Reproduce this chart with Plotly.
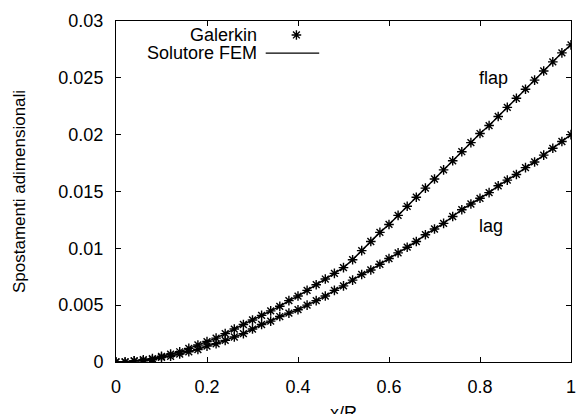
import plotly.graph_objects as go

# ---- data ----
x_vals = [round(i * 0.02, 2) for i in range(51)]
flap = [0.0000, 0.0000, 0.0001, 0.0002, 0.0003, 0.0005, 0.0007, 0.0009, 0.0012, 0.0015,
        0.0018, 0.0021, 0.0025, 0.0029, 0.0033, 0.0037, 0.0041, 0.0045, 0.0049, 0.0054,
        0.0058, 0.0063, 0.0068, 0.0073, 0.0078, 0.0083, 0.0090, 0.0098, 0.0106, 0.0114,
        0.0121, 0.0129, 0.0137, 0.0145, 0.0153, 0.0161, 0.0169, 0.0177, 0.0185, 0.0193,
        0.0201, 0.0208, 0.0216, 0.0224, 0.0232, 0.0240, 0.0248, 0.0256, 0.0264, 0.0272,
        0.0279]
lag = [0.0000, 0.0000, 0.0001, 0.0001, 0.0002, 0.0004, 0.0005, 0.0007, 0.0009, 0.0011,
       0.0014, 0.0016, 0.0019, 0.0022, 0.0025, 0.0029, 0.0033, 0.0036, 0.0040, 0.0043,
       0.0046, 0.0050, 0.0054, 0.0058, 0.0063, 0.0067, 0.0072, 0.0077, 0.0081, 0.0086,
       0.0091, 0.0096, 0.0101, 0.0106, 0.0112, 0.0117, 0.0122, 0.0128, 0.0134, 0.0139,
       0.0144, 0.0149, 0.0155, 0.0160, 0.0165, 0.0171, 0.0176, 0.0182, 0.0188, 0.0194,
       0.0200]
x_ticks = [0, 0.2, 0.4, 0.6, 0.8, 1]
x_ticklabels = ["0", "0.2", "0.4", "0.6", "0.8", "1"]
y_ticks = [0, 0.005, 0.01, 0.015, 0.02, 0.025, 0.03]
y_ticklabels = ["0", "0.005", "0.01", "0.015", "0.02", "0.025", "0.03"]
legend_names = ["Galerkin", "Solutore FEM"]
curve_labels = ["flap", "lag"]
curve_label_pos = [(0.83, 0.025), (0.825, 0.012)]

FONT = "Liberation Sans, Arial, Helvetica, sans-serif"
fig = go.Figure()

star = dict(symbol="asterisk-open", size=8, color="black",
            line=dict(color="black", width=1.4))

for series in (flap, lag):
    fig.add_trace(go.Scatter(x=x_vals, y=series, mode="lines",
                             line=dict(color="black", width=1.5),
                             showlegend=False, hoverinfo="skip"))
    fig.add_trace(go.Scatter(x=x_vals, y=series, mode="markers", marker=star,
                             showlegend=False, hoverinfo="skip"))

# legend sample (overlay axis in paper-like units)
fig.add_trace(go.Scatter(x=[0.3965], y=[0.959], mode="markers", xaxis="x2", yaxis="y2",
                         marker=star, showlegend=False, hoverinfo="skip"))
fig.add_trace(go.Scatter(x=[0.329, 0.4466], y=[0.906, 0.906], mode="lines", xaxis="x2", yaxis="y2",
                         line=dict(color="black", width=1.2),
                         showlegend=False, hoverinfo="skip"))

annotations = [
    dict(text=legend_names[0], x=0.3137, y=0.959, xref="paper", yref="paper",
         xanchor="right", yanchor="middle", showarrow=False, font=dict(size=18, color="black", family=FONT)),
    dict(text=legend_names[1], x=0.3137, y=0.906, xref="paper", yref="paper",
         xanchor="right", yanchor="middle", showarrow=False, font=dict(size=18, color="black", family=FONT)),
    dict(text="x/R", x=0.5, y=-0.115, xref="paper", yref="paper", xanchor="center", yanchor="top",
         showarrow=False, font=dict(size=18, color="black", family=FONT)),
    dict(text="Spostamenti adimensionali", x=-0.212, y=0.5, xref="paper", yref="paper",
         xanchor="center", yanchor="middle", textangle=-90,
         showarrow=False, font=dict(size=17, color="black", family=FONT)),
]
for lbl, (lx, ly) in zip(curve_labels, curve_label_pos):
    annotations.append(dict(text=lbl, x=lx, y=ly, xref="x", yref="y", showarrow=False,
                            xanchor="center", yanchor="middle",
                            font=dict(size=18, color="black", family=FONT)))

fig.update_layout(
    width=576, height=414,
    margin=dict(l=116, r=0, t=21, b=52),
    paper_bgcolor="white", plot_bgcolor="white",
    font=dict(family=FONT, size=18, color="black"),
    showlegend=False,
    annotations=annotations,
    xaxis=dict(range=[0, 1], tickvals=x_ticks, ticktext=x_ticklabels, ticks="inside",
               ticklen=5, tickwidth=1, tickcolor="black", showgrid=False, zeroline=False,
               showline=True, linecolor="black", linewidth=1, mirror="ticks",
               ticklabelstandoff=8, ticklabeloverflow="allow", tickfont=dict(size=18)),
    yaxis=dict(range=[0, 0.03], tickvals=y_ticks, ticktext=y_ticklabels, ticks="inside",
               ticklen=5, tickwidth=1, tickcolor="black", showgrid=False, zeroline=False,
               showline=True, linecolor="black", linewidth=1, mirror="ticks",
               ticklabelstandoff=8, tickfont=dict(size=18)),
    xaxis2=dict(range=[0, 1], overlaying="x", visible=False),
    yaxis2=dict(range=[0, 1], overlaying="y", visible=False),
)

fig.write_html("out.html")
